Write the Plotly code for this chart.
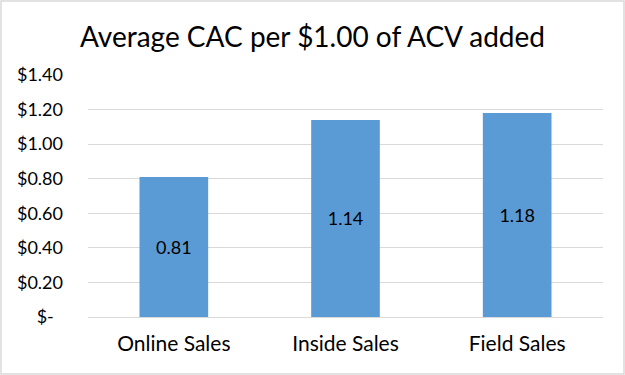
import plotly.graph_objects as go

categories = ["Online Sales", "Inside Sales", "Field Sales"]
values = [0.81, 1.14, 1.18]
tick_vals = [0, 0.2, 0.4, 0.6, 0.8, 1.0, 1.2, 1.4]
tick_text = ["$-\u00a0\u00a0", "$0.20", "$0.40", "$0.60", "$0.80", "$1.00", "$1.20", "$1.40"]

font_family = "Lato, 'Open Sans', sans-serif"

fig = go.Figure(go.Bar(
    x=categories, y=values,
    marker=dict(color="#5B9BD5", line=dict(width=0)),
    width=0.4,
    text=[f"{v:.2f}" for v in values],
    textposition="inside", insidetextanchor="middle",
    textfont=dict(size=18, color="black", family=font_family),
    textangle=0,
    hoverinfo="skip",
))

fig.update_layout(
    width=625, height=375,
    margin=dict(l=88, r=22, t=75, b=58, autoexpand=False),
    paper_bgcolor="white", plot_bgcolor="white",
    title=dict(text="Average CAC per $1.00 of ACV added", x=0.5, xanchor="center",
               y=0.902, yanchor="middle",
               font=dict(size=28, color="black", family=font_family)),
    showlegend=False,
    uniformtext=dict(mode=False),
    xaxis=dict(showline=True, linecolor="#D9D9D9", linewidth=1, ticks="",
               automargin=False, ticklabelstandoff=8,
               tickfont=dict(size=21, color="black", family=font_family)),
    yaxis=dict(range=[0, 1.4], tickvals=tick_vals, ticktext=tick_text,
               showgrid=True, gridcolor="#D9D9D9", gridwidth=1, zeroline=False,
               ticks="", ticklabelstandoff=24, automargin=False,
               tickfont=dict(size=18, color="black", family=font_family)),
    shapes=[dict(type="rect", xref="paper", yref="paper", x0=-87/515, x1=1+21/515,
                 y0=-57/242, y1=1+74/242, line=dict(color="#D9D9D9", width=1.5))],
)

fig.write_html("out.html", config={"displayModeBar": False, "staticPlot": True},
               post_script="document.body.style.margin='0';document.body.style.overflow='hidden';")
